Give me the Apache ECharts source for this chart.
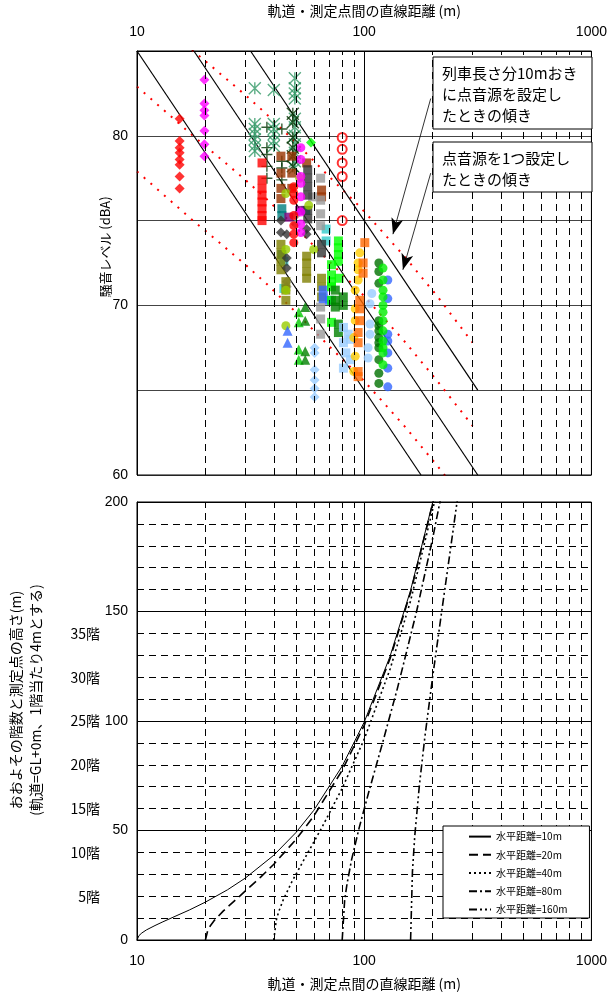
<!DOCTYPE html>
<html><head><meta charset="utf-8">
<script src="https://cdn.jsdelivr.net/npm/echarts@6/dist/echarts.min.js"></script>
<style>html,body{margin:0;padding:0;background:#fff}#c{width:610px;height:994px}</style>
</head><body><div id="c"></div>
<script>
// ---------- data ----------
const xTickValues = [10, 100, 1000];
const minorX = [20,30,40,50,60,70,80,90,200,300,400,500,600,700,800,900];
const floorHeights = [20,40,60,80,100,120,140];
const floorLabels = ['5階','10階','15階','20階','25階','30階','35階'];

// red dotted curves (train length, point sources every 10 m)
const redDist = [10, 18, 20, 30, 37, 50, 70, 96, 150, 208, 300];
const red1 = [87.8, 84.9, 84.4, 82.4, 81.3, 79.6, 77.6, 75.8, 72.9, 70.6, 67.8];
const red2 = [82.9, 79.9, 79.4, 77.4, 76.3, 74.6, 72.6, 70.8, 67.9, 65.6, 62.9];
const red3 = [77.9, 74.9, 74.4, 72.4, 71.3, 69.6, 67.6, 65.8, 62.9, 60.6, 57.9];
// black solid lines (single point source)
const blackA = [[10,85],[177.8,60]];
const blackB = [[17.8,85],[316,60]];
const blackC = [[31.6,85],[316,65]];

// measured noise levels [distance m, dBA]
const redDiamond = [[15.4,81.0],[15.4,79.7],[15.4,79.3],[15.4,79.0],[15.4,78.6],[15.4,78.3],[15.4,77.6],[15.4,76.9]];
const magentaDiamond = [[19.8,83.3],[19.8,81.9],[19.8,81.5],[19.8,81.2],[19.8,80.3],[19.8,79.5],[19.8,78.8]];
const redOpenCircle = [[80,79.9],[80,79.2],[80,78.4],[80,77.6],[80,75.0]];
const seaGreenStar = [[33,82.8],[33,80.7],[33,80.4],[33,80.1],[33,79.8],[33,79.4],[33,79.1],
  [40,82.7],[40,80.7],[40,80.4],[40,80.1],[40,79.7],[40,79.4],
  [49.5,83.4],[49.5,82.8],[49.5,82.5],[49.5,82.2],[49.5,81.0],[49.5,80.5],[49.5,80.0],[49.5,79.5],[49.5,79.0],[49.5,78.5],[49.5,78.1]];
const darkStar = [[48.5,81.3],[48.5,80.8],[48.5,79.9],[48.5,79.3],[48.5,78.8],[48.5,78.2]];
const darkPlus = [[37.3,80.5],[37.3,79.3],[37.3,78.9],[37.3,78.2],[37.3,77.5],[43.4,80.4],[43.4,78.5],[43.4,78.1],[43.4,77.4]];
const redSquare = [[35.5,78.4],[35.5,77.4],[35.5,76.9],[35.5,76.5],[35.5,76.1],[35.5,75.7],[35.5,75.3],[35.5,75.0]];
const brownSquare = [[43,78.8],[43,77.8],[43,76.9],[43,76.3],[48,78.8],[48,77.8],[48,76.9],[55.8,78.4],[64.9,76.8],[64.9,76.4]];
const magentaCircle = [[52.6,79.3],[52.6,78.6],[52.6,77.6],[52.6,77.2],[52.6,76.4],[52.6,75.5],[52.6,74.8],[52.6,74.3]];
const redCircle = [[49,77.0],[49,76.6],[49,76.2],[49,75.3],[49,74.7],[49,74.2],[49,73.7]];
const darkGraySquare = [[56.4,78.0],[56.4,77.5],[56.4,77.0],[56.4,76.5],[56.4,75.6],[56.4,75.1],[64.9,73.6],[64.9,73.1]];
const darkGrayDiamond = [[43,75.0],[43,74.3],[45.6,74.2],[45.6,72.8],[45.6,72.2],[55.8,74.5],[55.8,74.2]];
const oliveSquare = [[43,73.6],[43,73.1],[43,72.6],[43,72.1],[45.2,71.4],[45.2,70.9],[45.2,70.3],
  [55.8,72.9],[55.8,72.5],[55.8,72.0],[55.8,71.6],[64.9,71.6],[64.9,71.1],[64.9,70.5]];
const yellowGreenCircle = [[45.2,76.6],[45.2,73.3],[45.2,70.9],[45.2,68.8],[59.9,73.3],[57,75.9],[52,77.5]];
const tealSquare = [[43.4,75.7],[43.4,75.3],[43.4,73.0],[55.3,75.6]];
const cyanSquare = [[44.3,72.6],[44.3,71.0],[68,74.5],[68,73.8]];
const graySquare = [[64.3,77.5],[64.3,76.2],[64.3,75.4],[64.3,74.7],[64.3,69.9],[64.3,69.2],[64.3,68.3],[59.3,76.4]];
const grayDiamond = [[45.6,71.4],[45.6,71.1],[50,75.3],[50,74.8]];
const purpleSquare = [[46.6,75.2],[52,75.6]];
const limeSquare = [[77,73.8],[77,73.4],[77,73.0],[77,72.6],[71.8,72.4],[71.8,71.8],[71.8,71.4],[71.8,71.1],[71.8,70.3],[71.8,69.0],[77.5,71.6]];
const limeDiamond = [[58.3,79.6]];
const darkGreenSquare = [[74.6,70.9],[74.6,70.3],[74.6,69.9],[80.9,70.5],[80.9,70.0],[77,68.9],[77,68.4]];
const blueTriangle = [[46,68.5],[46,67.8]];
const blueSquare = [[66,70.9],[66,70.4],[70.3,70.3]];
const greenTriangle = [[51.5,69.6],[51.5,69.0],[51.5,67.4],[51.5,66.8]];
const darkGreenTriangle = [[55,69.9],[55,69.1],[55,67.3],[55,66.8]];
const lightBlueDiamond = [[60.5,67.5],[60.5,67.2],[60.5,66.2],[60.5,65.6],[60.5,65.1],[60.5,64.6]];
const lightBlueSquare = [[81,68.7],[85,68.3],[81,67.8],[83,67.2],[81,66.3],[86.9,68.0],[86.9,66.8]];
const lightBlueCircle = [[108,70.7],[106,70.1],[106,68.9],[104,67.5],[104,66.9],[106,68.3]];
const goldCircle = [[95.6,73.1],[94,72.5],[94,72.1],[94,71.5],[91.3,70.9],[91.3,69.8],[91.3,69.1],[90,68.1],[91.3,67.0],[90,66.1]];
const orangeSquare = [[100.6,73.7],[98.9,72.5],[98.9,71.9],[95.6,70.3],[95.6,69.8],[95.6,69.1],[94,68.4],[94,67.8],[94,66.1],[94,65.8]];
const darkGreenCircle = [[116,72.5],[116,72.0],[116,71.3],[116,69.1],[116,68.8],[116,68.5],[116,68.1],[116,67.8],[116,67.5],[116,66.8],[116,66.0],[116,65.4]];
const limeCircle = [[121,72.2],[121,71.5],[121,70.9],[121,70.5],[121,70.0],[121,69.6],[121,69.1],[121,68.5],[121,67.9],[121,67.5],[121,67.2],[121,66.5]];
const blueCircle = [[127,71.5],[127,70.4],[127,68.3],[127,67.9],[127,67.2],[127,66.3],[127,65.2]];

// height vs straight-line distance for each horizontal distance [distance m, height m]
const curve10 = [[10,0],[10.2,2.0],[10.5,3.2],[11,4.6],[12,6.6],[13,8.3],[15,11.2],[17,13.7],[20,17.3],[25,22.9],[30,28.3],[40,38.7],[50,49.0],[60,59.2],[80,79.4],[100,99.5],[130,129.6],[160,159.7],[200,199.7],[202,201.8]];
const curve20 = [[20,0],[20.5,4.5],[21,6.4],[22,9.2],[24,13.3],[27,18.1],[30,22.4],[35,28.7],[40,34.6],[50,45.8],[60,56.6],[80,77.5],[100,98.0],[130,128.5],[160,158.7],[202,201.0]];
const curve40 = [[40,0],[41,9.0],[42,12.8],[44,18.3],[48,26.5],[55,37.7],[65,51.2],[80,69.3],[100,91.7],[130,123.7],[160,154.9],[205,201.1]];
const curve80 = [[80,0],[82,18.0],[84,25.6],[88,36.7],[95,51.2],[105,68.0],[120,89.4],[140,114.9],[170,150.0],[200,183.3],[216,200.6]];
const curve160 = [[160,0],[163,31.1],[167,47.8],[175,70.9],[185,92.9],[200,120.0],[220,151.0],[240,178.9],[257,201.1]];
const curveNames = ['水平距離=10m','水平距離=20m','水平距離=40m','水平距離=80m','水平距離=160m'];

// ---------- chart ----------
const NUM = 'Liberation Sans, Arial, sans-serif';
const JP = 'Noto Sans CJK JP, sans-serif';
const STAR = 'path://M0,0L10,10M10,0L0,10M5,0L5,10';
const PLUS = 'path://M0,5L10,5M5,0L5,10';

const chart = echarts.init(document.getElementById('c'));

const scatterDefs = [
  [seaGreenStar, STAR, '#339966', 12, true],
  [darkStar, STAR, '#003300', 12, true],
  [darkPlus, PLUS, '#003300', 11, true],
  [redDiamond, 'diamond', '#ff0000', 10],
  [magentaDiamond, 'diamond', '#ff00ff', 10],
  [redOpenCircle, 'emptyCircle', '#ff0000', 9],
  [redSquare, 'rect', '#ff0000', 9],
  [brownSquare, 'rect', '#993300', 9],
  [tealSquare, 'rect', '#008080', 9],
  [cyanSquare, 'rect', '#33cccc', 9],
  [graySquare, 'rect', '#999999', 9],
  [grayDiamond, 'diamond', '#999999', 10],
  [purpleSquare, 'rect', '#800080', 9],
  [oliveSquare, 'rect', '#808000', 9],
  [darkGraySquare, 'rect', '#333333', 9],
  [darkGrayDiamond, 'diamond', '#333333', 10],
  [yellowGreenCircle, 'circle', '#99cc00', 9],
  [magentaCircle, 'circle', '#ff00ff', 9],
  [redCircle, 'circle', '#ff0000', 9],
  [limeDiamond, 'diamond', '#00ff00', 10],
  [blueSquare, 'rect', '#3366ff', 9],
  [limeSquare, 'rect', '#00ff00', 9],
  [darkGreenSquare, 'rect', '#008000', 9],
  [blueTriangle, 'triangle', '#3366ff', 10],
  [greenTriangle, 'triangle', '#00cc00', 10],
  [darkGreenTriangle, 'triangle', '#008000', 10],
  [lightBlueDiamond, 'diamond', '#99ccff', 10],
  [lightBlueSquare, 'rect', '#99ccff', 9],
  [lightBlueCircle, 'circle', '#99ccff', 9],
  [goldCircle, 'circle', '#ffcc00', 9],
  [orangeSquare, 'rect', '#ff6600', 9],
  [blueCircle, 'circle', '#3366ff', 9],
  [darkGreenCircle, 'circle', '#007000', 9],
  [limeCircle, 'circle', '#00ee00', 9]
];

const series = [];
// dashed minor vertical grid lines
[0,1].forEach(g => {
  series.push({
    type: 'line', xAxisIndex: g, yAxisIndex: g, data: [[10, g ? 0 : 60]], symbol: 'none',
    lineStyle: {opacity: 0}, silent: true, z: 1,
    markLine: {silent: true, symbol: ['none','none'], label: {show: false},
      lineStyle: {color: '#000', type: [7,5], width: 1},
      data: minorX.map(v => ({xAxis: v}))}
  });
});
// red dotted curves
[red1, red2, red3].forEach(arr => {
  series.push({type: 'line', xAxisIndex: 0, yAxisIndex: 0, symbol: 'none', z: 3,
    data: redDist.map((d, i) => [d, arr[i]]),
    lineStyle: {color: '#ff0000', width: 2, type: [2,7]}});
});
// black lines
[blackA, blackB, blackC].forEach(arr => {
  series.push({type: 'line', xAxisIndex: 0, yAxisIndex: 0, symbol: 'none', z: 3,
    data: arr, lineStyle: {color: '#000', width: 1.2}});
});
// scatter
scatterDefs.forEach(([data, sym, col, size, stroke]) => {
  series.push({type: 'scatter', xAxisIndex: 0, yAxisIndex: 0, data: data, symbol: sym,
    symbolSize: size, z: 4,
    itemStyle: stroke ? {color: 'rgba(0,0,0,0)', borderColor: col, borderWidth: 1.4}
      : (sym === 'emptyCircle' ? {color: col, borderColor: col, borderWidth: 1} : {color: col})});
});
// arrows
series.push({type: 'line', xAxisIndex: 0, yAxisIndex: 0, data: [[10,60]], symbol: 'none',
  lineStyle: {opacity: 0}, silent: true, z: 6,
  markLine: {silent: true, symbol: ['none','arrow'], symbolSize: [9,16], label: {show: false},
    lineStyle: {color: '#000', type: 'solid', width: 0.8},
    data: [[{coord: [196.2, 82.2]}, {coord: [133.8, 74.2]}],
           [{coord: [196.2, 77.8]}, {coord: [148.0, 72.1]}]]}});
// height curves
const curveData = [curve10, curve20, curve40, curve80, curve160];
const curveStyles = [
  {type: 'solid', width: 1},
  {type: [9,5], width: 1.6},
  {type: [2,3], width: 1.6},
  {type: [8,3,2,3], width: 1.6},
  {type: [8,3,2,3,2,3], width: 1.6}
];
curveData.forEach((d, i) => {
  series.push({name: curveNames[i], type: 'line', xAxisIndex: 1, yAxisIndex: 1, data: d,
    symbol: 'none', z: 3, lineStyle: Object.assign({color: '#000'}, curveStyles[i]),
    itemStyle: {color: '#000'}});
});

const option = {
  animation: false,
  backgroundColor: '#fff',
  grid: [
    {left: 137, width: 458, top: 51, height: 424, show: true, borderColor: '#000', borderWidth: 1, backgroundColor: 'transparent', z: 5},
    {left: 137, width: 458, top: 502, height: 438, show: true, borderColor: '#000', borderWidth: 1, backgroundColor: 'transparent', z: 5}
  ],
  xAxis: [
    {gridIndex: 0, type: 'log', logBase: 10, min: 10, max: 1000, position: 'top',
     name: '軌道・測定点間の直線距離 (m)', nameLocation: 'middle', nameGap: 33,
     nameTextStyle: {fontFamily: JP, fontSize: 14, color: '#000'},
     axisLine: {lineStyle: {color: '#000'}}, axisTick: {show: false},
     axisLabel: {margin: 12, fontSize: 14, fontFamily: NUM, color: '#000',
       formatter: v => xTickValues.includes(Math.round(v)) ? String(Math.round(v)) : ''},
     splitLine: {show: true, lineStyle: {color: '#000', width: 1}}},
    {gridIndex: 1, type: 'log', logBase: 10, min: 10, max: 1000, position: 'bottom',
     name: '軌道・測定点間の直線距離 (m)', nameLocation: 'middle', nameGap: 37,
     nameTextStyle: {fontFamily: JP, fontSize: 14, color: '#000'},
     axisLine: {lineStyle: {color: '#000'}}, axisTick: {show: false},
     axisLabel: {margin: 14, fontSize: 14, fontFamily: NUM, color: '#000',
       formatter: v => xTickValues.includes(Math.round(v)) ? String(Math.round(v)) : ''},
     splitLine: {show: true, lineStyle: {color: '#000', width: 1}}}
  ],
  yAxis: [
    {gridIndex: 0, type: 'value', min: 60, max: 85, interval: 5,
     axisLine: {show: true, lineStyle: {color: '#000'}}, axisTick: {show: false},
     axisLabel: {margin: 9, fontSize: 14, fontFamily: NUM, color: '#000',
       formatter: v => (v % 10 === 0 ? String(v) : '')},
     splitLine: {show: true, lineStyle: {color: '#444', width: 1}}},
    {gridIndex: 1, type: 'value', min: 0, max: 200, interval: 50,
     axisLine: {show: true, lineStyle: {color: '#000'}}, axisTick: {show: false},
     axisLabel: {margin: 9, fontSize: 14, fontFamily: NUM, color: '#000'},
     splitLine: {show: true, lineStyle: {color: '#000', width: 1}},
     minorTick: {show: false, splitNumber: 5},
     minorSplitLine: {show: true, lineStyle: {color: '#000', type: [7,5], width: 1}}},
    {gridIndex: 1, type: 'value', min: 0, max: 200, interval: 4, position: 'left', offset: 36,
     axisLine: {show: false}, axisTick: {show: false}, splitLine: {show: false},
     axisLabel: {margin: 1, fontSize: 14, fontFamily: JP, color: '#000',
       formatter: v => { const i = floorHeights.indexOf(Math.round(v)); return i >= 0 ? floorLabels[i] : ''; }}}
  ],
  legend: {
    data: curveNames, orient: 'vertical', left: 443, top: 826,
    itemWidth: 22, itemHeight: 14, itemGap: 7,
    padding: [5, 22, 3, 25],
    backgroundColor: '#fff', borderColor: '#000', borderWidth: 1,
    itemStyle: {opacity: 0},
    textStyle: {fontFamily: JP, fontSize: 10, color: '#000'},
    selectedMode: false, z: 10
  },
  graphic: [
    {type: 'text', x: 105, y: 247, rotation: Math.PI / 2, z: 10,
     style: {text: '騒音レベル (dBA)', fontFamily: JP, fontSize: 13, fill: '#000', align: 'center', verticalAlign: 'middle'}},
    {type: 'text', x: 16, y: 700, rotation: Math.PI / 2, z: 10,
     style: {text: 'おおよその階数と測定点の高さ(m)', fontFamily: JP, fontSize: 14, fill: '#000', align: 'center', verticalAlign: 'middle'}},
    {type: 'text', x: 36, y: 700, rotation: Math.PI / 2, z: 10,
     style: {text: '(軌道=GL+0m、1階当たり4mとする)', fontFamily: JP, fontSize: 14, fill: '#000', align: 'center', verticalAlign: 'middle'}},
    {type: 'rect', shape: {x: 433, y: 57, width: 159, height: 72}, z: 10,
     style: {fill: '#fff', stroke: '#000', lineWidth: 1}},
    {type: 'text', x: 442, y: 63, z: 11,
     style: {text: '列車長さ分10mおき\nに点音源を設定し\nたときの傾き', fontFamily: JP, fontSize: 15, lineHeight: 21, fill: '#000', align: 'left', verticalAlign: 'top'}},
    {type: 'rect', shape: {x: 433, y: 142, width: 159, height: 50}, z: 10,
     style: {fill: '#fff', stroke: '#000', lineWidth: 1}},
    {type: 'text', x: 442, y: 148, z: 11,
     style: {text: '点音源を1つ設定し\nたときの傾き', fontFamily: JP, fontSize: 15, lineHeight: 21, fill: '#000', align: 'left', verticalAlign: 'top'}}
  ],
  series: series
};
chart.setOption(option);
</script>
</body></html>
